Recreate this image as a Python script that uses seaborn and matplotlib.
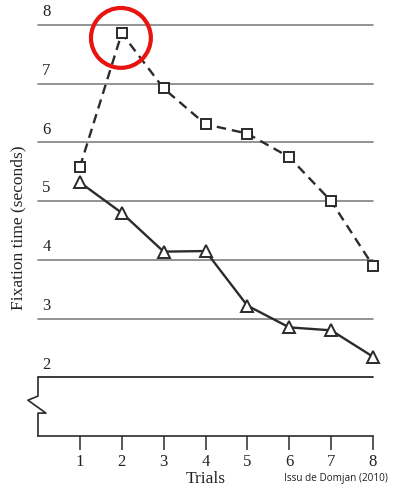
import numpy as np
import pandas as pd
import seaborn as sns
import matplotlib.pyplot as plt
from matplotlib.patches import Ellipse

# Values
trials = [1, 2, 3, 4, 5, 6, 7, 8]
squares = [5.58, 7.86, 6.92, 6.31, 6.15, 5.75, 5.0, 3.9]
triangles = [5.32, 4.8, 4.14, 4.15, 3.22, 2.85, 2.8, 2.35]
y_ticks = [2, 3, 4, 5, 6, 7, 8]

df = pd.DataFrame({"trial": trials, "squares": squares, "triangles": triangles})

sns.set_style("white")
plt.rcParams["font.family"] = ["Liberation Serif", "DejaVu Serif"]

fig = plt.figure(figsize=(4.15, 4.88), dpi=100)
ax = fig.add_axes([38 / 415, (488 - 436) / 488, 335 / 415, 411 / 488])
ax.set_xlim(0, 8)
ax.set_ylim(1, 8)

line_col = "#2b2b2b"
grid_col = "#808080"

# horizontal reference lines with labels sitting above them
for v in y_ticks:
    ax.axhline(v, color=line_col if v == 2 else grid_col, lw=1.3 if v == 2 else 1.2,
               zorder=1, clip_on=False)
    ax.text(0.1, v + 0.08, str(v), fontsize=12, ha="left", va="bottom", color="#222")

# broken left axis between 1 and 2
bx = [0, 0, -0.24, 0.19, 0, 0]
by = [2, 1.68, 1.61, 1.39, 1.39, 1]
ax.plot(bx, by, color=line_col, lw=1.2, clip_on=False)

sns.lineplot(data=df, x="trial", y="squares", ax=ax, color=line_col, lw=1.7,
             linestyle=(0, (4, 2.5)), marker="s", markersize=7.5,
             markerfacecolor="white", markeredgecolor=line_col,
             markeredgewidth=1.4, clip_on=False, zorder=3)
sns.lineplot(data=df, x="trial", y="triangles", ax=ax, color=line_col, lw=1.7,
             marker="^", markersize=9, markerfacecolor="white",
             markeredgecolor=line_col, markeredgewidth=1.4, clip_on=False, zorder=3)

# red highlight circle around the peak
ax.add_patch(Ellipse((1.98, 7.78), 1.43, 1.02, fill=False, edgecolor="#e8140f",
                     lw=3, zorder=4, clip_on=False))

for s in ["top", "right", "left"]:
    ax.spines[s].set_visible(False)
ax.spines["bottom"].set_color(line_col)
ax.spines["bottom"].set_linewidth(1.2)

ax.set_xticks(trials)
ax.set_xticklabels([str(t) for t in trials], fontsize=12)
ax.tick_params(axis="x", direction="out", length=10, width=1.1, color=line_col,
               pad=3, labelcolor="#222", bottom=True)
ax.set_yticks([])
ax.set_xlabel("Trials", fontsize=12.5, labelpad=1, color="#222")
ax.set_ylabel("")
fig.text(18 / 415, (488 - 228) / 488, "Fixation time (seconds)", rotation=90,
         fontsize=12.5, ha="center", va="center", color="#222")

fig.text(388 / 415, (488 - 478) / 488, "Issu de Domjan (2010)", fontsize=7.2,
         ha="right", va="center", family=["Open Sans", "DejaVu Sans"], color="#222")

fig.savefig("out.png", dpi=100)
